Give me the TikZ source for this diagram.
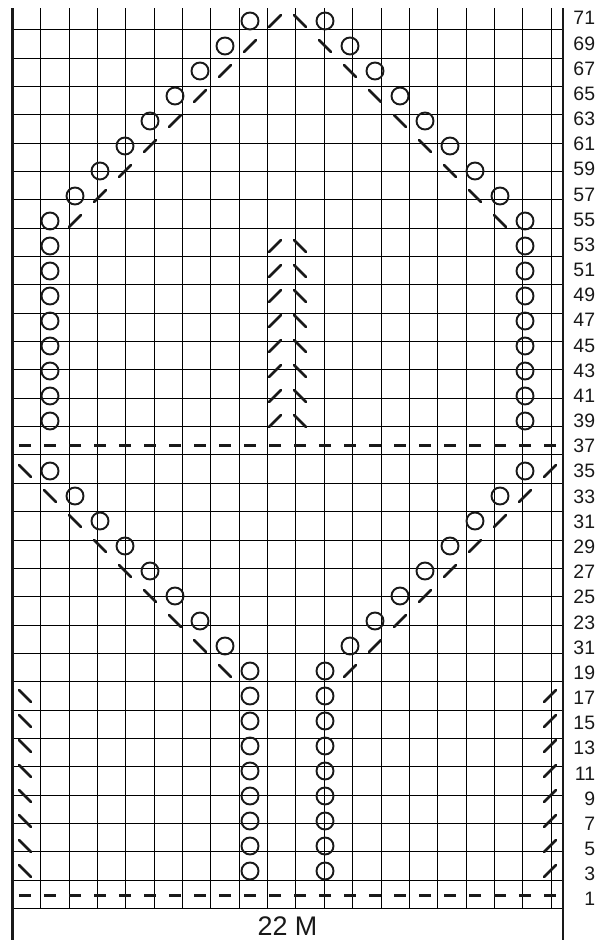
\documentclass[tikz,border=0pt]{standalone}
\usepackage{fontspec}
\setmainfont{Liberation Sans}
\def\symr{0.34}
\def\slen{0.24}
\def\laby{0.372}
\def\labdy{1.0068}
\definecolor{chartink}{RGB}{25,25,25}
\newcommand{\symYO}[2]{\draw[yarnover] ({#1-0.5},{#2-0.5}) circle (\symr);}
\newcommand{\symR}[2]{\draw[decrease] ({#1-0.5-\slen},{#2-0.5-\slen}) -- ({#1-0.5+\slen},{#2-0.5+\slen});}
\newcommand{\symL}[2]{\draw[decrease] ({#1-0.5-\slen},{#2-0.5+\slen}) -- ({#1-0.5+\slen},{#2-0.5-\slen});}
\newcommand{\symP}[2]{\draw[purlbar] ({#1-0.5-\slen},{#2-0.5}) -- ({#1-0.5+\slen},{#2-0.5});}

\begin{document}
\begin{tikzpicture}[x=25bp,y=25bp,line cap=round,
    yarnover/.style={chartink,line width=1.9bp},
    decrease/.style={chartink,line width=2.6bp},
    purlbar/.style={chartink,line width=3bp,line cap=butt},
    rowlab/.style={chartink,anchor=east,inner sep=0pt,font=\fontsize{19.5}{20}\selectfont}]
  \useasboundingbox (-0.5,-1.26) rectangle (23.54,36.34);
  \draw[black,line width=0.95bp,line cap=butt] (0,0) grid (22,36);
  \draw[chartink,line width=3bp,line cap=butt] (0,-1.26) -- (0,36.03);
  \draw[chartink,line width=2bp,line cap=butt] (22,-1.26) -- (22,36.03);
  % top diamond
  \foreach \k in {0,...,8} {
    \symYO{10-\k}{36-\k} \symYO{13+\k}{36-\k}
    \symR{11-\k}{36-\k} \symL{12+\k}{36-\k}
  }
  \foreach \r in {20,...,27} {
    \symYO{2}{\r} \symYO{21}{\r} \symR{11}{\r} \symL{12}{\r}
  }
  % bottom V
  \foreach \k in {0,...,8} {
    \symL{1+\k}{18-\k} \symYO{2+\k}{18-\k}
    \symYO{21-\k}{18-\k} \symR{22-\k}{18-\k}
  }
  \foreach \r in {2,...,9} {
    \symL{1}{\r} \symYO{10}{\r} \symYO{13}{\r} \symR{22}{\r}
  }
  \foreach \r in {1,19} { \foreach \c in {1,...,22} { \symP{\c}{\r} } }
  \foreach \lab [count=\r] in {1,3,5,7,9,11,13,15,17,19,31,23,25,27,29,31,33,35,37,39,41,43,45,47,49,51,53,55,57,59,61,63,65,67,69,71}
    \node[rowlab] (lab\r) at (23.31,{\laby+(\r-1)*\labdy}) {\lab};
  \node[chartink,anchor=base,inner sep=0pt,font=\fontsize{27}{28}\selectfont] (stitchcount) at (11,-1.06) {22 M};
\end{tikzpicture}
\end{document}
